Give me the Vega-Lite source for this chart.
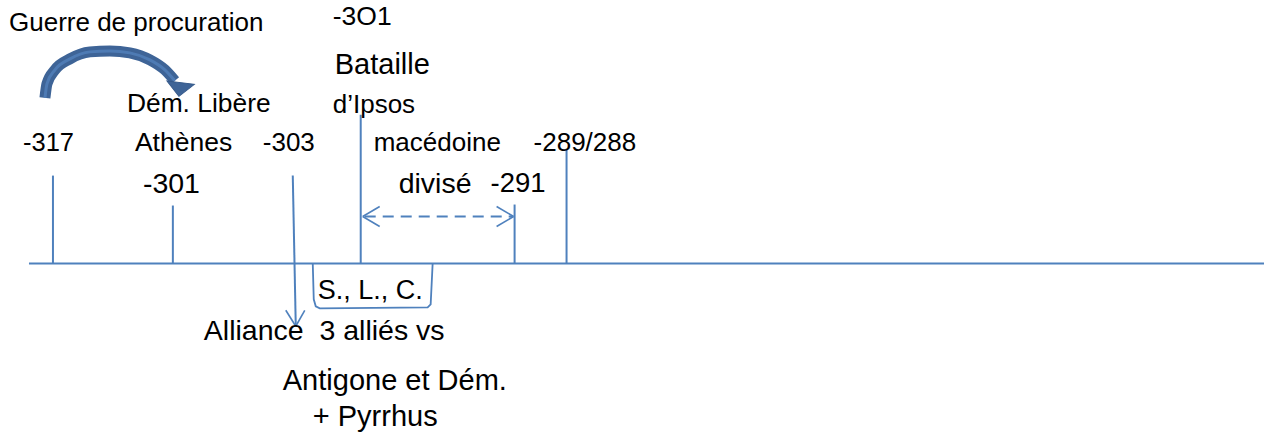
{
  "$schema": "https://vega.github.io/schema/vega-lite/v6.json",
  "autosize": {"type": "fit", "contains": "padding"},
  "width": 1265,
  "height": 432,
  "padding": 0,
  "background": "white",
  "config": {"view": {"stroke": null}, "axis": {"disable": true}},
  "datasets": {
    "solid": [
      {"id": "baseline", "x": 29, "y": 264, "x2": 1265, "y2": 264},
      {"id": "t317", "x": 53, "y": 176, "x2": 53, "y2": 264},
      {"id": "t301", "x": 173, "y": 206, "x2": 173, "y2": 264},
      {"id": "ipsos", "x": 361, "y": 115, "x2": 361, "y2": 264},
      {"id": "t291", "x": 515, "y": 205, "x2": 515, "y2": 264},
      {"id": "t289", "x": 567, "y": 149, "x2": 567, "y2": 264},
      {"id": "t303", "x": 293, "y": 176, "x2": 296, "y2": 327}
    ],
    "heads": [
      {"id": "a303l", "x": 286, "y": 311, "x2": 296, "y2": 327},
      {"id": "a303r", "x": 305, "y": 311, "x2": 296, "y2": 327},
      {"id": "dl1", "x": 380, "y": 207, "x2": 363, "y2": 217},
      {"id": "dl2", "x": 380, "y": 227, "x2": 363, "y2": 217},
      {"id": "dr1", "x": 497, "y": 207, "x2": 514, "y2": 217},
      {"id": "dr2", "x": 497, "y": 227, "x2": 514, "y2": 217}
    ],
    "dashed": [
      {"id": "macedoine", "x": 365, "y": 217, "x2": 513, "y2": 217}
    ],
    "bracket": [
      {"o": 1, "x": 313, "y": 264},
      {"o": 2, "x": 314, "y": 300},
      {"o": 3, "x": 316, "y": 307},
      {"o": 4, "x": 320, "y": 309},
      {"o": 5, "x": 428, "y": 308},
      {"o": 6, "x": 431, "y": 305},
      {"o": 7, "x": 433, "y": 264}
    ],
    "arc": [
      {"o": 1, "x": 45, "y": 98},
      {"o": 2, "x": 47, "y": 84},
      {"o": 3, "x": 55, "y": 70},
      {"o": 4, "x": 70, "y": 59},
      {"o": 5, "x": 90, "y": 52},
      {"o": 6, "x": 110, "y": 51},
      {"o": 7, "x": 130, "y": 53},
      {"o": 8, "x": 150, "y": 60},
      {"o": 9, "x": 165, "y": 70},
      {"o": 10, "x": 175, "y": 81}
    ],
    "arrowhead": [
      {"x": 180, "y": 89}
    ],
    "labels": [
      {"t": "Guerre de procuration", "x": 9, "y": 23, "s": 26},
      {"t": "-3O1", "x": 333, "y": 17, "s": 26.5},
      {"t": "Bataille", "x": 335, "y": 65, "s": 29},
      {"t": "Dém. Libère", "x": 127, "y": 104, "s": 26.4},
      {"t": "d’Ipsos", "x": 333, "y": 105, "s": 26},
      {"t": "-317", "x": 23, "y": 143, "s": 25.5},
      {"t": "Athènes", "x": 135, "y": 143, "s": 26.5},
      {"t": "-303", "x": 263, "y": 143, "s": 26},
      {"t": "macédoine", "x": 374, "y": 143, "s": 26},
      {"t": "-289/288", "x": 534, "y": 143, "s": 26},
      {"t": "-301", "x": 143, "y": 184, "s": 28.5},
      {"t": "divisé", "x": 399, "y": 184, "s": 28.5},
      {"t": "-291", "x": 491, "y": 184, "s": 27.5},
      {"t": "S., L., C.", "x": 318, "y": 292, "s": 27},
      {"t": "Alliance\u00a0 3 alliés vs", "x": 204, "y": 332, "s": 28.5},
      {"t": "Antigone et Dém.", "x": 283, "y": 382, "s": 29},
      {"t": "+ Pyrrhus", "x": 313, "y": 418, "s": 29}
    ]
  },
  "encoding": {
    "x": {"field": "x", "type": "quantitative", "scale": {"domain": [0, 1265], "nice": false, "zero": false}, "axis": null},
    "y": {"field": "y", "type": "quantitative", "scale": {"domain": [0, 432], "nice": false, "zero": false, "reverse": true}, "axis": null}
  },
  "layer": [
    {
      "data": {"name": "solid"},
      "mark": {"type": "rule", "color": "#4f81bd", "strokeWidth": 2},
      "encoding": {"x2": {"field": "x2"}, "y2": {"field": "y2"}}
    },
    {
      "data": {"name": "heads"},
      "mark": {"type": "rule", "color": "#4f81bd", "strokeWidth": 1.6},
      "encoding": {"x2": {"field": "x2"}, "y2": {"field": "y2"}}
    },
    {
      "data": {"name": "dashed"},
      "mark": {"type": "rule", "color": "#4f81bd", "strokeWidth": 2, "strokeDash": [11, 7]},
      "encoding": {"x2": {"field": "x2"}, "y2": {"field": "y2"}}
    },
    {
      "data": {"name": "bracket"},
      "mark": {"type": "line", "color": "#4f81bd", "strokeWidth": 1.8, "interpolate": "linear"},
      "encoding": {"order": {"field": "o", "type": "quantitative"}}
    },
    {
      "data": {"name": "arc"},
      "mark": {"type": "line", "color": "#3e6497", "strokeWidth": 11, "interpolate": "monotone", "strokeCap": "butt"},
      "encoding": {"order": {"field": "o", "type": "quantitative"}}
    },
    {
      "data": {"name": "arc"},
      "mark": {"type": "line", "color": "#5685c0", "strokeWidth": 3, "interpolate": "monotone", "strokeCap": "butt", "opacity": 0.7},
      "encoding": {"order": {"field": "o", "type": "quantitative"}}
    },
    {
      "data": {"name": "arrowhead"},
      "mark": {"type": "point", "shape": "M-1,-0.45L1,-0.45L0,0.55Z", "filled": true, "color": "#3e6497", "stroke": "#35598a", "strokeWidth": 1, "size": 760, "angle": 7, "opacity": 1}
    },
    {
      "data": {"name": "labels"},
      "mark": {"type": "text", "align": "left", "baseline": "middle", "font": "Liberation Sans, Arial, sans-serif", "color": "#000000"},
      "encoding": {
        "text": {"field": "t", "type": "nominal"},
        "size": {"field": "s", "type": "quantitative", "scale": null}
      }
    }
  ]
}
